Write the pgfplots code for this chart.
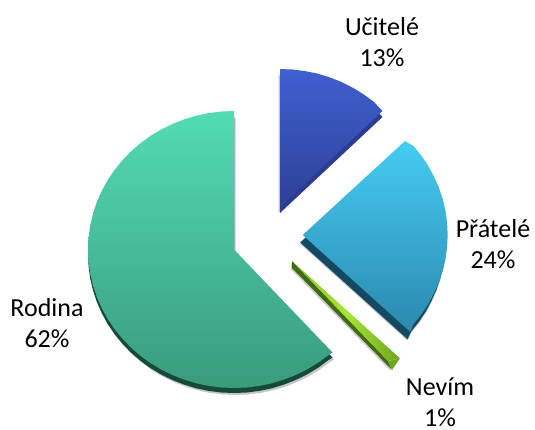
\documentclass[border=0pt]{standalone}
\usepackage{pgfplots}
\pgfplotsset{compat=1.18}
\usepackage{pgfplotstable}
\usepackage{fontspec}
\setmainfont{Carlito}
\definecolor{rtop}{HTML}{52DCB4}
\definecolor{rbot}{HTML}{3A9A7E}
\definecolor{rside}{HTML}{15493A}
\definecolor{utop}{HTML}{4060D0}
\definecolor{ubot}{HTML}{2E4098}
\definecolor{uside}{HTML}{2C3C92}
\definecolor{ptop}{HTML}{46CCF4}
\definecolor{pbot}{HTML}{2B88AE}
\definecolor{pside}{HTML}{134A62}
\definecolor{ntop}{HTML}{A4E632}
\definecolor{nbot}{HTML}{6FA51F}
\definecolor{nside}{HTML}{406B12}
\pgfplotstableread{
x y
234 249.5
234 111
221.3 111.5
208.6 113.1
196.2 115.7
184.1 119.4
172.3 124
161 129.6
150.3 136
140.2 143.4
130.8 151.6
122.2 160.5
114.4 170.1
107.6 180.2
101.7 191
96.8 202.1
93 213.7
90.2 225.5
88.6 237.4
88 249.5
88.6 261.6
90.2 273.5
93 285.3
96.8 296.9
101.7 308
107.6 318.8
114.4 328.9
122.2 338.5
130.8 347.4
140.2 355.6
150.3 363
161 369.4
172.3 375
184.1 379.6
196.2 383.3
208.6 385.9
221.3 387.5
234 388
246.7 387.5
259.4 385.9
271.8 383.3
283.9 379.6
295.7 375
307 369.4
317.7 363
327.8 355.6
332.5 352.5
}\rodina
\pgfplotstableread{
x y
280 207
280 69
292.7 69.5
305.2 71.1
317.5 73.6
329.6 77.3
341.3 81.9
352.5 87.5
363.1 94
373.2 101.3
382.5 111
}\ucitele
\pgfplotstableread{
x y
302.7 235
405 141
413.8 146.3
421.4 155.7
428.3 166
434 176.7
439 187.8
442.8 199.3
445.5 211
447.1 223
447.7 235
447.1 247
445.5 259
442.8 270.7
439 282.2
434 293.3
428.3 304
421.4 314.3
413.8 323.7
410 331.7
}\pratele
\pgfplotstableread{
x y
292 261
400 358.3
388 361
}\nevim
\pgfplotstableread{
x y
292 261
292 268
392 370
388 361
}\nevimside
\pgfplotstableread{
x y
388 361
400 358.3
392 370
}\nevimend
\begin{document}
\begin{tikzpicture}
\begin{axis}[at={(0,0)},anchor=south west,scale only axis,width=535pt,height=429pt,
  xmin=0,xmax=535,ymin=0,ymax=429,y dir=reverse,hide axis,clip=false]
% Rodina
\addplot[draw=none,fill=gray,fill opacity=.45,xshift=1.5pt,yshift=-7pt] table {\rodina} -- cycle;
\addplot[draw=none,fill=rside,yshift=-5pt] table {\rodina} -- cycle;
\addplot[draw=none,top color=rtop,bottom color=rbot] table {\rodina} -- cycle;
% Ucitele
\addplot[draw=none,fill=gray,fill opacity=.45,xshift=-1.5pt,yshift=-6pt] table {\ucitele} -- cycle;
\addplot[draw=none,fill=uside,yshift=-6pt] table {\ucitele} -- cycle;
\addplot[draw=none,top color=utop,bottom color=ubot] table {\ucitele} -- cycle;
% Pratele
\addplot[draw=none,fill=gray,fill opacity=.45,xshift=-2.5pt,yshift=-9pt] table {\pratele} -- cycle;
\addplot[draw=none,fill=pside,xshift=-2.5pt,yshift=-7.5pt] table {\pratele} -- cycle;
\addplot[draw=none,top color=ptop,bottom color=pbot] table {\pratele} -- cycle;
% Nevim
\addplot[draw=none,fill=gray,fill opacity=.4,xshift=-1pt,yshift=-1.5pt] table {\nevimside} -- cycle;
\addplot[draw=none,fill=nside] table {\nevimside} -- cycle;
\addplot[draw=none,fill=nbot] table {\nevimend} -- cycle;
\addplot[draw=none,left color=ntop!70!nside,right color=nbot,middle color=ntop] table {\nevim} -- cycle;
% Labels
\node[align=center,font=\fontsize{26}{31}\selectfont] at (axis cs:382,42) {Učitelé\\13\%};
\node[align=center,font=\fontsize{26}{31}\selectfont] at (axis cs:493,244) {Přátelé\\24\%};
\node[align=center,font=\fontsize{26}{31}\selectfont] at (axis cs:47,323) {Rodina\\62\%};
\node[align=center,font=\fontsize{26}{31}\selectfont] at (axis cs:440,402) {Nevím\\1\%};
\end{axis}
\path[use as bounding box] (0,0) rectangle (535pt,429pt);
\end{tikzpicture}
\end{document}
